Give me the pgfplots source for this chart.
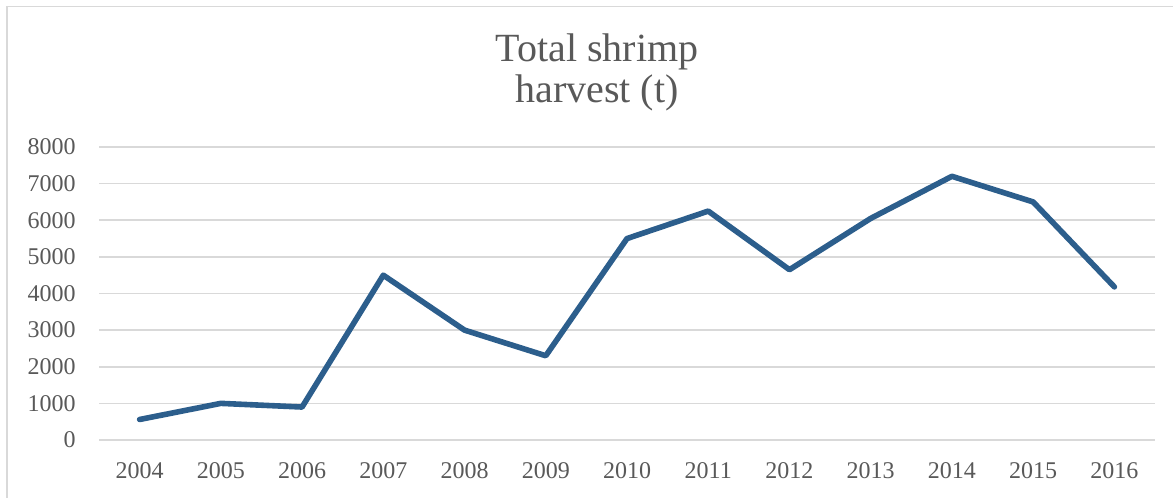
\documentclass[border=0pt]{standalone}
\usepackage{fontspec}
\setmainfont{Liberation Serif}
\usepackage{pgfplots}
\pgfplotsset{compat=1.18}
\definecolor{txtgray}{HTML}{595959}
\definecolor{gridgray}{HTML}{D9D9D9}
\definecolor{lineblue}{RGB}{44,94,140}
\begin{document}
\begin{tikzpicture}
\path[use as bounding box] (0,0) rectangle (586.5pt,249pt);
\draw[gridgray, line width=0.8pt] (3.5pt,0) -- (3.5pt,245.75pt) -- (586.5pt,245.75pt);
\begin{axis}[
  at={(49.5pt,29pt)}, anchor=south west,
  scale only axis, width=528pt, height=146.5pt,
  xmin=-0.5, xmax=12.5, ymin=0, ymax=8000,
  xtick={0,...,12},
  xticklabels={2004,2005,2006,2007,2008,2009,2010,2011,2012,2013,2014,2015,2016},
  ytick={0,1000,...,8000},
  ymajorgrids,
  major grid style={gridgray, line width=0.8pt},
  axis line style={draw=none},
  tick style={draw=none},
  /pgf/number format/assume math mode=true,
  yticklabel={\pgfmathprintnumber[fixed,1000 sep={}]{\tick}},
  ticklabel style={font=\fontsize{12pt}{14pt}\selectfont, text=txtgray},
  yticklabel style={inner sep=0pt, anchor=east, xshift=-11.5pt},
  xticklabel style={inner sep=0pt, anchor=north, yshift=-11pt},
  clip=false,
]
\addplot[lineblue, line width=2.8pt, line join=round, line cap=round] coordinates {
  (0,560) (1,1000) (2,900) (3,4500) (4,3000) (5,2300) (6,5500)
  (7,6250) (8,4650) (9,6050) (10,7200) (11,6500) (12,4180)
};
\end{axis}
\node[anchor=base, text=txtgray, font=\fontsize{20pt}{22pt}\selectfont] at (298.5pt,218pt) {Total shrimp};
\node[anchor=base, text=txtgray, font=\fontsize{20pt}{22pt}\selectfont] at (298.5pt,197.5pt) {harvest (t)};
\end{tikzpicture}
\end{document}
